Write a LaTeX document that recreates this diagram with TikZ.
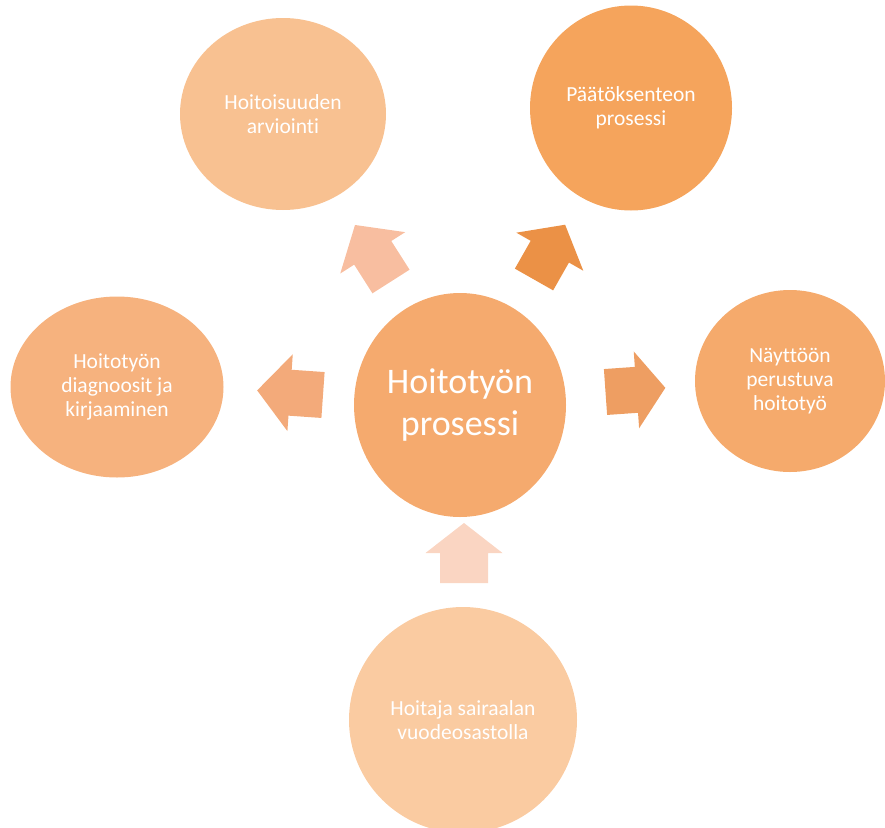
\documentclass[tikz,border=0pt]{standalone}
\usepackage{fontspec}
\setmainfont{Carlito}[Ligatures={NoCommon}]
\usetikzlibrary{shapes.geometric}
\definecolor{cTL}{HTML}{F8C191}
\definecolor{cTR}{HTML}{F5A45C}
\definecolor{cC}{HTML}{F5AA6E}
\definecolor{cL}{HTML}{F6B27E}
\definecolor{cR}{HTML}{F5AA6C}
\definecolor{cB}{HTML}{FACBA1}
\definecolor{aTL}{HTML}{F8BEA0}
\definecolor{aTR}{HTML}{EB9146}
\definecolor{aL}{HTML}{F3AA7A}
\definecolor{aR}{HTML}{EE9E62}
\definecolor{aB}{HTML}{FAD5C2}
% #1,#2 base centre, #3 angle, #4 length, #5 head length, #6 head half width, #7 shaft half width, #8 colour
\newcommand{\fatarrow}[8]{%
  \fill[#8,shift={(#1,#2)},rotate=#3]
    (0,-#7) -- (#4-#5,-#7) -- (#4-#5,-#6) -- (#4,0) -- (#4-#5,#6) -- (#4-#5,#7) -- (0,#7) -- cycle;}
\begin{document}
\begin{tikzpicture}[x=1pt,y=-1pt,
  blob/.style={ellipse,draw=none,inner sep=0pt,text=white,align=center,
    font=\fontsize{21.5}{24}\selectfont},
  bigblob/.style={blob,font=\fontsize{36}{42}\selectfont}]
\useasboundingbox (0,0) rectangle (885,827);
\node[blob,fill=cTL,minimum width=206pt,minimum height=192pt] (tl) at (283,114) {Hoitoisuuden\\arviointi};
\node[blob,fill=cTR,minimum width=202pt,minimum height=205pt] (tr) at (631,108) {Päätöksenteon\\prosessi};
\node[blob,fill=cL,minimum width=213pt,minimum height=181pt] (lf) at (117,387) {Hoitotyön\\diagnoosit ja\\kirjaaminen};
\node[blob,fill=cR,minimum width=190pt,minimum height=182pt] (rt) at (790,381) {Näyttöön\\perustuva\\hoitotyö};
\node[bigblob,fill=cC,minimum width=212pt,minimum height=224pt] (c) at (460,405) {Hoitotyön\\prosessi};
\node[blob,fill=cB,minimum width=228pt,minimum height=226pt] (bt) at (463,720) {Hoitaja sairaalan\\vuodeosastolla};
\fatarrow{391}{281.5}{122.5}{67}{33}{38.5}{22}{aTL}
\fatarrow{534}{279.5}{60.4}{63}{31}{38.5}{22}{aTR}
\fatarrow{323}{395}{176}{66}{33}{38.5}{23}{aL}
\fatarrow{605.5}{392}{4}{60}{29}{38.5}{23}{aR}
\fatarrow{464}{583}{90}{60}{30}{38.5}{24}{aB}
\end{tikzpicture}
\end{document}
